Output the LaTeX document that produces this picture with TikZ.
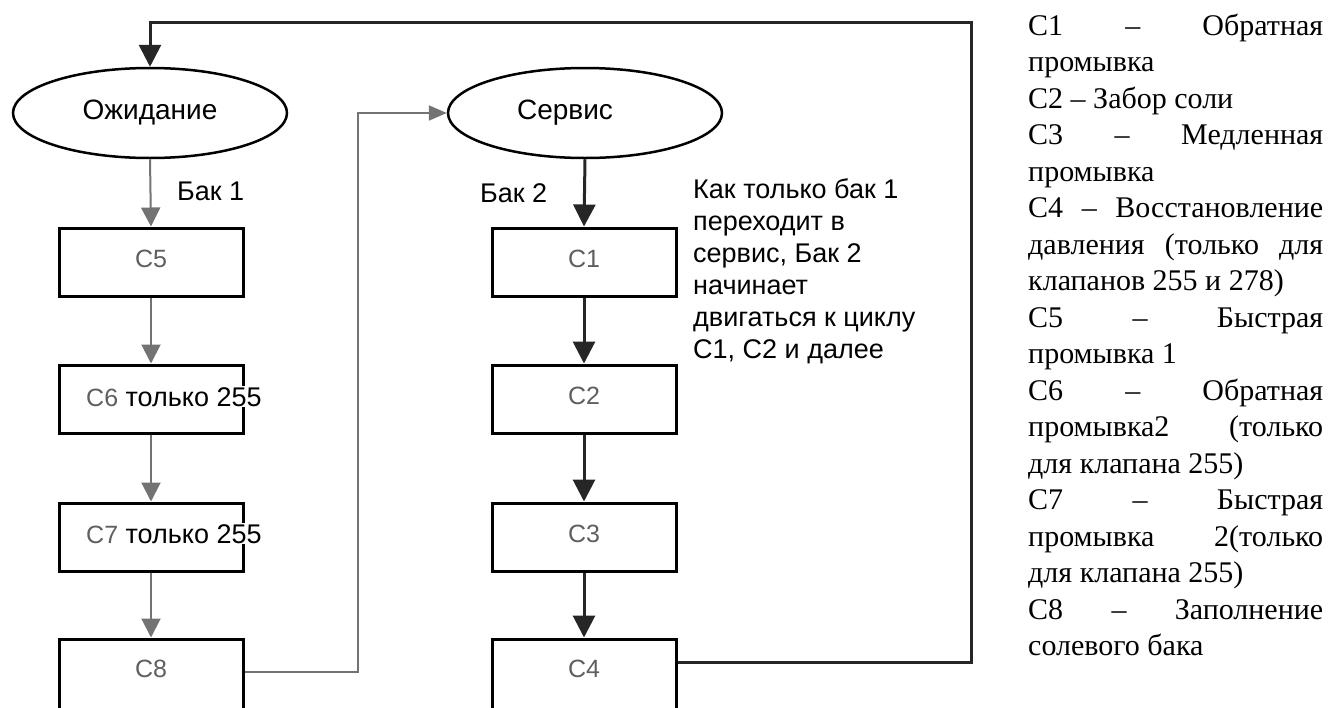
\documentclass[tikz,border=0pt]{standalone}
\usepackage{fontspec}
\setmainfont{Liberation Serif}
\newfontfamily\sansf{Liberation Sans}
\usetikzlibrary{shapes.geometric,arrows.meta}
\definecolor{gline}{HTML}{737373}
\definecolor{glabel}{HTML}{5F5F5F}
\definecolor{dline}{HTML}{262626}
\begin{document}
\begin{tikzpicture}[x=1pt,y=-1pt,
 sansfont/.style={font=\sansf\fontsize{27}{32}\selectfont},
 stepbox/.style={draw=black,line width=3pt,minimum width=184pt,minimum height=68pt,inner sep=0pt,font=\sansf\fontsize{25}{30}\selectfont,text=glabel,text height=18pt,text depth=8pt},
 tallbox/.style={stepbox,minimum height=76pt,text depth=18pt},
 oval/.style={ellipse,draw=black,line width=2.5pt,minimum width=274pt,minimum height=90pt,inner sep=0pt,font=\sansf\fontsize{28}{32}\selectfont},
 grayarrow/.style={draw=gline,line width=2pt,-{Triangle[width=19pt,length=19pt]}},
 blackarrow/.style={draw=dline,line width=3pt,-{Triangle[width=22pt,length=22pt]}},
 lbl/.style={sansfont,inner sep=0pt,anchor=base west}]
\clip (0,0) rectangle (1336,707);
\fill[white] (0,0) rectangle (1336,707);

% ellipses
\node[oval] (e1) at (150,113) {Ожидание};
\node[oval] (e2) at (585,113) {Сервис\hspace*{40pt}};

% left column
\node[stepbox] (c5) at (151,262) {C5};
\node[stepbox] (c6) at (151,399) {};
\node[stepbox] (c7) at (151,537) {};
\node[tallbox] (c8) at (151,677) {C8};
\node[lbl,fill=white,inner sep=1pt] (t6) at (85,406) {\textcolor{glabel}{\fontsize{25}{30}\selectfont C6} только 255};
\node[lbl,fill=white,inner sep=1pt] (t7) at (85,543) {\textcolor{glabel}{\fontsize{25}{30}\selectfont C7} только 255};

% right column
\node[stepbox] (c1) at (584,262) {C1};
\node[stepbox] (c2) at (584,399) {C2};
\node[stepbox] (c3) at (584,537) {C3};
\node[tallbox] (c4) at (584,677) {C4};

% labels
\node[lbl] (bak1) at (177,200) {Бак 1};
\node[lbl] (bak2) at (480,202) {Бак 2};
\node[lbl] (note) at (693,198) {\parbox[t]{320pt}{\raggedright\sansf\fontsize{27}{32}\selectfont
Как только бак 1\\
переходит в\\
сервис, Бак 2\\
начинает\\
двигаться к циклу\\
C1, C2 и далее}};

% connectors left
\draw[grayarrow] (e1.south) -- (c5.north);
\draw[grayarrow] (c5.south) -- (c6.north);
\draw[grayarrow] (c6.south) -- (c7.north);
\draw[grayarrow] (c7.south) -- (c8.north);
\draw[draw=gline,line width=2pt,-{Triangle[width=15pt,length=18pt]}] ([yshift=5pt]c8.east) -- ++(113,0) |- (e2.west);

% connectors right
\draw[blackarrow] (e2.south) -- (c1.north);
\draw[blackarrow] (c1.south) -- (c2.north);
\draw[blackarrow] (c2.south) -- (c3.north);
\draw[blackarrow] (c3.south) -- (c4.north);
\coordinate (rc) at (971,22);
\draw[blackarrow] ([yshift=15pt]c4.east) -| (rc) -| (e1.north);

% legend
\node[anchor=base west,inner sep=0pt] (legend) at (1028,35) {\parbox[t]{295pt}{\raggedright\fontsize{30}{36.5}\selectfont
\makebox[295pt][s]{C1 – Обратная}\\
промывка\\
C2 – Забор соли\\
\makebox[295pt][s]{C3 – Медленная}\\
промывка\\
\makebox[295pt][s]{C4 – Восстановление}\\
\makebox[295pt][s]{давления (только для}\\
клапанов 255 и 278)\\
\makebox[295pt][s]{C5 – Быстрая}\\
промывка 1\\
\makebox[295pt][s]{C6 – Обратная}\\
\makebox[295pt][s]{промывка2 (только}\\
для клапана 255)\\
\makebox[295pt][s]{C7 – Быстрая}\\
\makebox[295pt][s]{промывка 2(только}\\
для клапана 255)\\
\makebox[295pt][s]{C8 – Заполнение}\\
солевого бака}};
\end{tikzpicture}
\end{document}
